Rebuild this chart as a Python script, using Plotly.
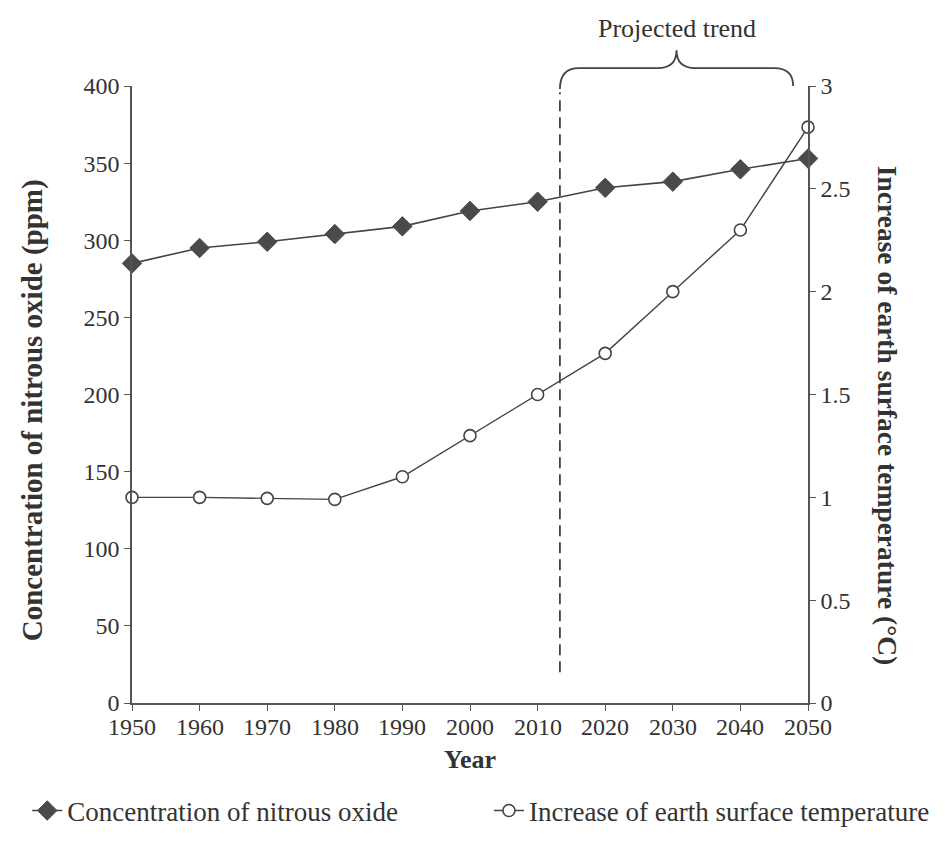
import plotly.graph_objects as go

years = [1950, 1960, 1970, 1980, 1990, 2000, 2010, 2020, 2030, 2040, 2050]
nitrous_oxide_ppm = [285, 295, 299, 304, 309, 319, 325, 334, 338, 346, 353]
temperature_increase = [1.0, 1.0, 0.995, 0.99, 1.1, 1.3, 1.5, 1.7, 2.0, 2.3, 2.8]
left_ticks = [0, 50, 100, 150, 200, 250, 300, 350, 400]
right_ticks = [0, 0.5, 1, 1.5, 2, 2.5, 3]
projection_start = 2013.3
brace_end = 2047.8

FONT = "Liberation Serif"
TXT = "#333333"
LINE = "#444444"

fig = go.Figure()
fig.add_trace(go.Scatter(
    x=years, y=nitrous_oxide_ppm, name="Concentration of nitrous oxide",
    mode="lines+markers", line=dict(color=LINE, width=1.6),
    marker=dict(symbol="diamond", size=15, color="#4a4a4a", line=dict(color="#4a4a4a", width=1)),
    yaxis="y", legend="legend", cliponaxis=False))
fig.add_trace(go.Scatter(
    x=years, y=temperature_increase, name="Increase of earth surface temperature",
    mode="lines+markers", line=dict(color=LINE, width=1.4),
    marker=dict(symbol="circle", size=12, color="white", line=dict(color="#444444", width=1.6)),
    yaxis="y2", legend="legend2", cliponaxis=False))

axis_common = dict(showline=True, linecolor="#555555", linewidth=1.6, ticks="outside",
                   tickcolor="#555555", tickwidth=1.4, ticklen=6, showgrid=False, zeroline=False,
                   tickfont=dict(family=FONT, size=24, color=TXT))

fig.update_layout(
    width=943, height=840,
    margin=dict(l=124, r=143, t=78, b=145),
    plot_bgcolor="white", paper_bgcolor="white",
    font=dict(family=FONT, color=TXT),
    xaxis=dict(range=[1950, 2050], tickvals=years, showticklabels=False, **axis_common),
    yaxis=dict(range=[0, 400], tickvals=left_ticks, **axis_common),
    yaxis2=dict(range=[0, 3], tickvals=right_ticks, overlaying="y", side="right", **axis_common),
    legend=dict(orientation="h", x=-0.155, y=-0.175, xanchor="left", yanchor="middle",
                font=dict(family=FONT, size=27, color=TXT), bgcolor="rgba(0,0,0,0)"),
    legend2=dict(orientation="h", x=0.528, y=-0.175, xanchor="left", yanchor="middle",
                 font=dict(family=FONT, size=27, color=TXT), bgcolor="rgba(0,0,0,0)"),
    showlegend=True,
)

# x tick labels placed close to the axis, as in the reference
for yr in years:
    fig.add_annotation(x=yr, y=-0.039, xref="x", yref="paper", text=str(yr), showarrow=False,
                       font=dict(family=FONT, size=24, color=TXT), xanchor="center", yanchor="middle")
fig.add_annotation(x=0.5, y=-0.091, xref="paper", yref="paper", text="<b>Year</b>", showarrow=False,
                   font=dict(family=FONT, size=26, color=TXT), xanchor="center", yanchor="middle")

# dashed line marking start of projection
fig.add_shape(type="line", xref="x", yref="paper", x0=projection_start, x1=projection_start,
              y0=0.05, y1=0.99, line=dict(color="#444444", width=1.8, dash="11px,6px"))

# curly brace over projected region
xm = (projection_start + brace_end) / 2
r = 2.8
path = (f"M {projection_start},0.995 Q {projection_start},1.029 {projection_start + r},1.029 "
        f"L {xm - r},1.029 Q {xm},1.029 {xm},1.058 "
        f"Q {xm},1.029 {xm + r},1.029 L {brace_end - r},1.029 "
        f"Q {brace_end},1.029 {brace_end},1.0")
fig.add_shape(type="path", xref="x", yref="paper", path=path,
              line=dict(color="#444444", width=1.8))

fig.add_annotation(x=xm, y=1.094, xref="x", yref="paper", text="Projected trend",
                   showarrow=False, font=dict(family=FONT, size=26, color=TXT),
                   xanchor="center", yanchor="middle")

fig.add_annotation(x=-0.146, y=0.475, xref="paper", yref="paper",
                   text="<b>Concentration of nitrous oxide (ppm)</b>", textangle=-90,
                   showarrow=False, font=dict(family=FONT, size=29, color=TXT),
                   xanchor="center", yanchor="middle")
fig.add_annotation(x=1.117, y=0.467, xref="paper", yref="paper",
                   text="<b>Increase of earth surface temperature (°C)</b>", textangle=90,
                   showarrow=False, font=dict(family=FONT, size=27.5, color=TXT),
                   xanchor="center", yanchor="middle")

fig.write_html("out.html")
